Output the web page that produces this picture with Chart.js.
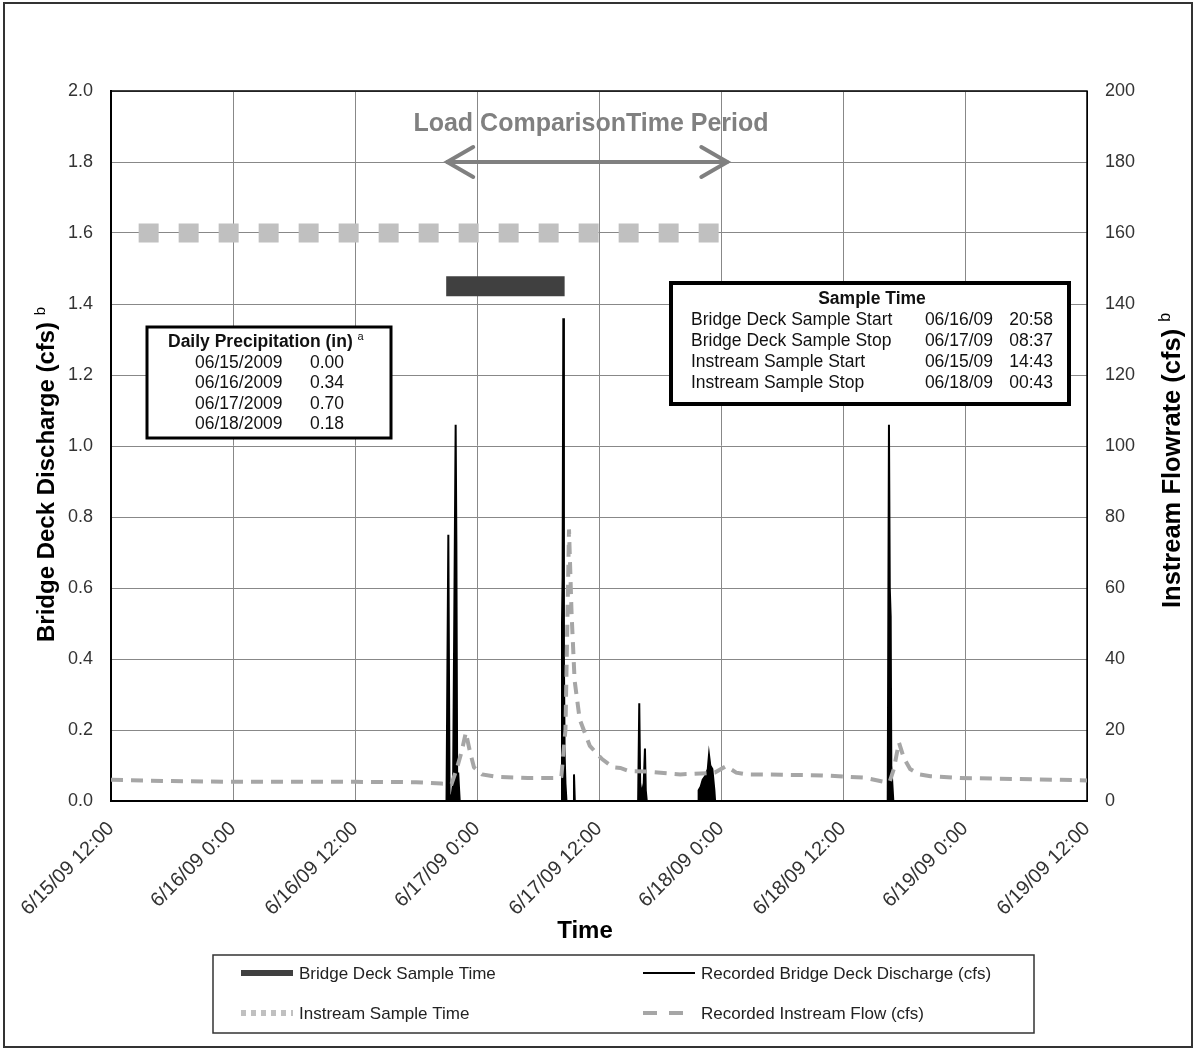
<!DOCTYPE html>
<html>
<head>
<meta charset="utf-8">
<script src="https://cdn.jsdelivr.net/npm/chart.js@4.4.1/dist/chart.umd.min.js"></script>
<style>
  body { margin: 0; background: #fff; }
  canvas { display: block; }
</style>
</head>
<body>
<canvas id="chart" width="1196" height="1050"></canvas>
<script>
const FONT = '"Liberation Sans", Arial, sans-serif';

// x axis is hours after 6/15/09 12:00
const TICK_LABELS = [
  "6/15/09 12:00", "6/16/09 0:00", "6/16/09 12:00", "6/17/09 0:00", "6/17/09 12:00",
  "6/18/09 0:00", "6/18/09 12:00", "6/19/09 0:00", "6/19/09 12:00",
];

// recorded bridge deck discharge (cfs, left axis)
const BRIDGE_HOURS = [
  0, 33.0, 33.18, 33.3, 33.45, 33.65, 33.9, 33.97, 34.05, 34.15, 34.3,
  44.3, 44.36, 44.42, 44.49, 44.55, 44.62, 44.7, 44.8,
  45.45, 45.54, 45.62,
  51.85, 51.96, 52.05, 52.2, 52.4, 52.52, 52.6, 52.7,
  57.75, 57.8, 58.0, 58.2, 58.45, 58.7, 58.82, 58.95, 59.15, 59.35, 59.42,
  76.4, 76.52, 76.6, 76.69, 76.75, 76.85, 76.95, 96,
];
const BRIDGE_CFS = [
  0, 0, 0.75, 0.02, 0, 0.05, 1.06, 0.73, 0.05, 0.08, 0,
  0, 0.5, 0.63, 1.36, 0.4, 0.13, 0.05, 0,
  0, 0.075, 0,
  0, 0.275, 0.05, 0.02, 0.05, 0.148, 0.03, 0,
  0, 0.03, 0.04, 0.06, 0.07, 0.09, 0.13, 0.1, 0.09, 0.03, 0,
  0, 1.06, 0.6, 0.52, 0.1, 0.05, 0, 0,
];

// recorded instream flow (cfs, right axis)
const INSTREAM_HOURS = [
  0, 6, 12, 18, 24, 30, 32.5, 33.5, 34.0, 34.5,
  34.9, 35.3, 35.7, 36.5, 38, 41, 43.5, 44.3, 44.7, 45.05,
  45.3, 45.6, 46.1, 47.1, 48.3, 49.4, 50.1, 51.0, 52.7, 56.0,
  58.6, 59.4, 60.5, 61.5, 62.5, 66, 70, 74, 75.9, 76.6,
  77.0, 77.5, 78.0, 78.6, 79.5, 80.6, 83.5, 87.4, 96,
];
const INSTREAM_CFS = [
  6.0, 5.6, 5.4, 5.4, 5.4, 5.3, 4.9, 4.8, 9.0, 14,
  19.3, 14, 9.5, 7.5, 6.8, 6.5, 6.5, 7.0, 20, 76.5,
  53, 34, 23, 15.5, 11.8, 9.5, 9.3, 8.4, 8.3, 7.5,
  7.8, 8.0, 9.8, 8.0, 7.5, 7.4, 7.2, 6.6, 5.5, 5.5,
  9, 16.5, 12, 9, 7.5, 7.0, 6.5, 6.3, 5.8,
];

// sample windows (start, stop in hours) and the level they are drawn at
const BRIDGE_SAMPLE = [32.97, 44.62];
const BRIDGE_SAMPLE_LEVEL = 1.45;
const INSTREAM_SAMPLE = [2.72, 60.72];
const INSTREAM_SAMPLE_LEVEL = 1.6;
const COMPARISON_PERIOD = [32.97, 60.72];
const COMPARISON_LEVEL = 1.8;

const PRECIP_DATES = ["06/15/2009", "06/16/2009", "06/17/2009", "06/18/2009"];
const PRECIP_IN = ["0.00", "0.34", "0.70", "0.18"];

const SAMPLE_LABELS = ["Bridge Deck Sample Start", "Bridge Deck Sample Stop", "Instream Sample Start", "Instream Sample Stop"];
const SAMPLE_DATES = ["06/16/09", "06/17/09", "06/15/09", "06/18/09"];
const SAMPLE_TIMES = ["20:58", "08:37", "14:43", "00:43"];

function pts(xs, ys) {
  return xs.map((x, i) => ({ x: x, y: ys[i] }));
}

function supText(ctx, text, sup, x, y, size) {
  // draws text then a small raised letter after it, in current transform
  ctx.textAlign = "left";
  ctx.textBaseline = "alphabetic";
  ctx.font = `bold ${size}px ${FONT}`;
  ctx.fillText(text, x, y);
  let w = ctx.measureText(text + " ").width;
  ctx.font = `${Math.round(size * 0.62)}px ${FONT}`;
  ctx.fillText(sup, x + w, y - size * 0.38);
}

const extras = {
  id: "extras",
  beforeDraw(chart) {
    const ctx = chart.ctx;
    ctx.save();
    ctx.fillStyle = "#fff";
    ctx.fillRect(0, 0, chart.width, chart.height);
    ctx.restore();
  },
  beforeDatasetsDraw(chart) {
    const ctx = chart.ctx;
    const a = chart.chartArea;
    ctx.save();
    ctx.strokeStyle = "#000";
    ctx.lineWidth = 1.5;
    ctx.strokeRect(a.left, a.top, a.right - a.left, a.bottom - a.top);
    ctx.restore();
  },
  afterDatasetsDraw(chart) {
    const ctx = chart.ctx;
    const xs = chart.scales.x, ys = chart.scales.y;
    ctx.save();

    // arrow heads of the comparison period
    const yA = ys.getPixelForValue(COMPARISON_LEVEL);
    const x0 = xs.getPixelForValue(COMPARISON_PERIOD[0]);
    const x1 = xs.getPixelForValue(COMPARISON_PERIOD[1]);
    ctx.strokeStyle = "#808080";
    ctx.lineWidth = 4;
    ctx.lineCap = "round";
    ctx.beginPath();
    ctx.moveTo(x0 + 27, yA - 15); ctx.lineTo(x0 + 1, yA); ctx.lineTo(x0 + 27, yA + 15);
    ctx.moveTo(x1 - 27, yA - 15); ctx.lineTo(x1 - 1, yA); ctx.lineTo(x1 - 27, yA + 15);
    ctx.stroke();

    ctx.fillStyle = "#808080";
    ctx.font = `bold 25px ${FONT}`;
    ctx.textAlign = "center";
    ctx.fillText("Load ComparisonTime Period", 591, 131);

    // precipitation box
    ctx.fillStyle = "#fff";
    ctx.fillRect(147, 327, 244, 111);
    ctx.strokeStyle = "#000";
    ctx.lineWidth = 3;
    ctx.lineCap = "butt";
    ctx.strokeRect(147, 327, 244, 111);
    ctx.fillStyle = "#111";
    supText(ctx, "Daily Precipitation (in)", "a", 168, 347, 17.5);
    ctx.font = `17.5px ${FONT}`;
    PRECIP_DATES.forEach((d, i) => {
      ctx.fillText(d, 195, 368 + i * 20.3);
      ctx.fillText(PRECIP_IN[i], 310, 368 + i * 20.3);
    });

    // sample time box
    ctx.fillStyle = "#fff";
    ctx.fillRect(671, 283, 398, 121);
    ctx.lineWidth = 4;
    ctx.strokeRect(671, 283, 398, 121);
    ctx.fillStyle = "#111";
    ctx.font = `bold 17.5px ${FONT}`;
    ctx.textAlign = "center";
    ctx.fillText("Sample Time", 872, 304);
    ctx.font = `17.5px ${FONT}`;
    SAMPLE_LABELS.forEach((s, i) => {
      const yy = 325 + i * 21;
      ctx.textAlign = "left";
      ctx.fillText(s, 691, yy);
      ctx.textAlign = "right";
      ctx.fillText(SAMPLE_DATES[i], 993, yy);
      ctx.fillText(SAMPLE_TIMES[i], 1053, yy);
    });

    // axis titles
    ctx.fillStyle = "#000";
    ctx.save();
    ctx.translate(54, 642);
    ctx.rotate(-Math.PI / 2);
    supText(ctx, "Bridge Deck Discharge (cfs)", "b", 0, 0, 24);
    ctx.restore();
    ctx.save();
    ctx.translate(1180, 608);
    ctx.rotate(-Math.PI / 2);
    supText(ctx, "Instream Flowrate (cfs)", "b", 0, 0, 25.5);
    ctx.restore();
    ctx.font = `bold 24px ${FONT}`;
    ctx.textAlign = "center";
    ctx.fillText("Time", 585, 938);

    // legend
    ctx.strokeStyle = "#333";
    ctx.lineWidth = 1.5;
    ctx.strokeRect(213, 955, 821, 78);
    const items = chart.data.datasets.filter(d => d.legend);
    items.forEach((d) => {
      const [lx, ly] = d.legend;
      ctx.save();
      ctx.strokeStyle = d.borderColor;
      ctx.lineWidth = d.legendWidth;
      ctx.setLineDash(d.legendDash || []);
      ctx.lineCap = "butt";
      ctx.beginPath();
      ctx.moveTo(lx, ly);
      ctx.lineTo(lx + 52, ly);
      ctx.stroke();
      ctx.restore();
      ctx.fillStyle = "#222";
      ctx.font = `17px ${FONT}`;
      ctx.textAlign = "left";
      ctx.textBaseline = "middle";
      ctx.fillText(d.label, lx + 58, ly + 1);
    });

    // outer frame
    ctx.strokeStyle = "#333";
    ctx.lineWidth = 2;
    ctx.strokeRect(4, 3, 1188, 1044);
    ctx.restore();
  },
};

const tickFont = { family: FONT, size: 18 };

new Chart(document.getElementById("chart"), {
  type: "line",
  data: {
    datasets: [
      {
        label: "Recorded Instream Flow (cfs)",
        data: pts(INSTREAM_HOURS, INSTREAM_CFS),
        yAxisID: "y2",
        borderColor: "#a6a6a6",
        borderWidth: 4,
        borderDash: [12, 8],
        fill: false,
        order: 0,
        legend: [643, 1013], legendWidth: 4, legendDash: [14, 12],
      },
      {
        label: "Recorded Bridge Deck Discharge (cfs)",
        data: pts(BRIDGE_HOURS, BRIDGE_CFS),
        yAxisID: "y",
        borderColor: "#000",
        backgroundColor: "#000",
        borderWidth: 2,
        fill: "origin",
        order: 1,
        legend: [643, 973], legendWidth: 2,
      },
      {
        label: "Bridge Deck Sample Time",
        data: pts(BRIDGE_SAMPLE, [BRIDGE_SAMPLE_LEVEL, BRIDGE_SAMPLE_LEVEL]),
        yAxisID: "y",
        borderColor: "#404040",
        borderWidth: 20,
        fill: false,
        order: 2,
        legend: [241, 973], legendWidth: 6,
      },
      {
        label: "Instream Sample Time",
        data: pts(INSTREAM_SAMPLE, [INSTREAM_SAMPLE_LEVEL, INSTREAM_SAMPLE_LEVEL]),
        yAxisID: "y",
        borderColor: "#c0c0c0",
        borderWidth: 19,
        borderDash: [20, 20],
        fill: false,
        order: 2,
        legend: [241, 1013], legendWidth: 6, legendDash: [5, 5],
      },
      {
        label: "Load Comparison Time Period",
        data: pts(COMPARISON_PERIOD, [COMPARISON_LEVEL, COMPARISON_LEVEL]),
        yAxisID: "y",
        borderColor: "#808080",
        borderWidth: 4,
        fill: false,
        order: 2,
      },
    ],
  },
  options: {
    responsive: false,
    animation: false,
    devicePixelRatio: 1,
    layout: { padding: { top: 91 } },
    elements: {
      point: { radius: 0 },
      line: { tension: 0, borderCapStyle: "butt" },
    },
    plugins: {
      legend: { display: false },
      tooltip: { enabled: false },
    },
    scales: {
      x: {
        type: "linear",
        min: 0,
        max: 96,
        afterFit: (s) => { s.height = 249; },
        afterBuildTicks: (s) => {
          s.ticks = TICK_LABELS.map((_, i) => ({ value: i * 12 }));
        },
        ticks: {
          autoSkip: false,
          maxRotation: 45,
          minRotation: 45,
          padding: 16,
          font: { family: FONT, size: 20 },
          color: "#333",
          callback: (v, i) => TICK_LABELS[i],
        },
        grid: { color: "#888", drawTicks: false },
        border: { color: "#000", width: 2 },
      },
      y: {
        position: "left",
        min: 0,
        max: 2,
        afterFit: (s) => { s.width = 111; },
        ticks: {
          stepSize: 0.2,
          padding: 18,
          font: tickFont,
          color: "#333",
          callback: (v) => v.toFixed(1),
        },
        grid: { color: "#888", drawTicks: false },
        border: { color: "#000", width: 2 },
      },
      y2: {
        position: "right",
        min: 0,
        max: 200,
        afterFit: (s) => { s.width = 109; },
        ticks: {
          stepSize: 20,
          padding: 18,
          font: tickFont,
          color: "#333",
        },
        grid: { display: false, drawTicks: false },
        border: { color: "#000", width: 1 },
      },
    },
  },
  plugins: [extras],
});
</script>
</body>
</html>
